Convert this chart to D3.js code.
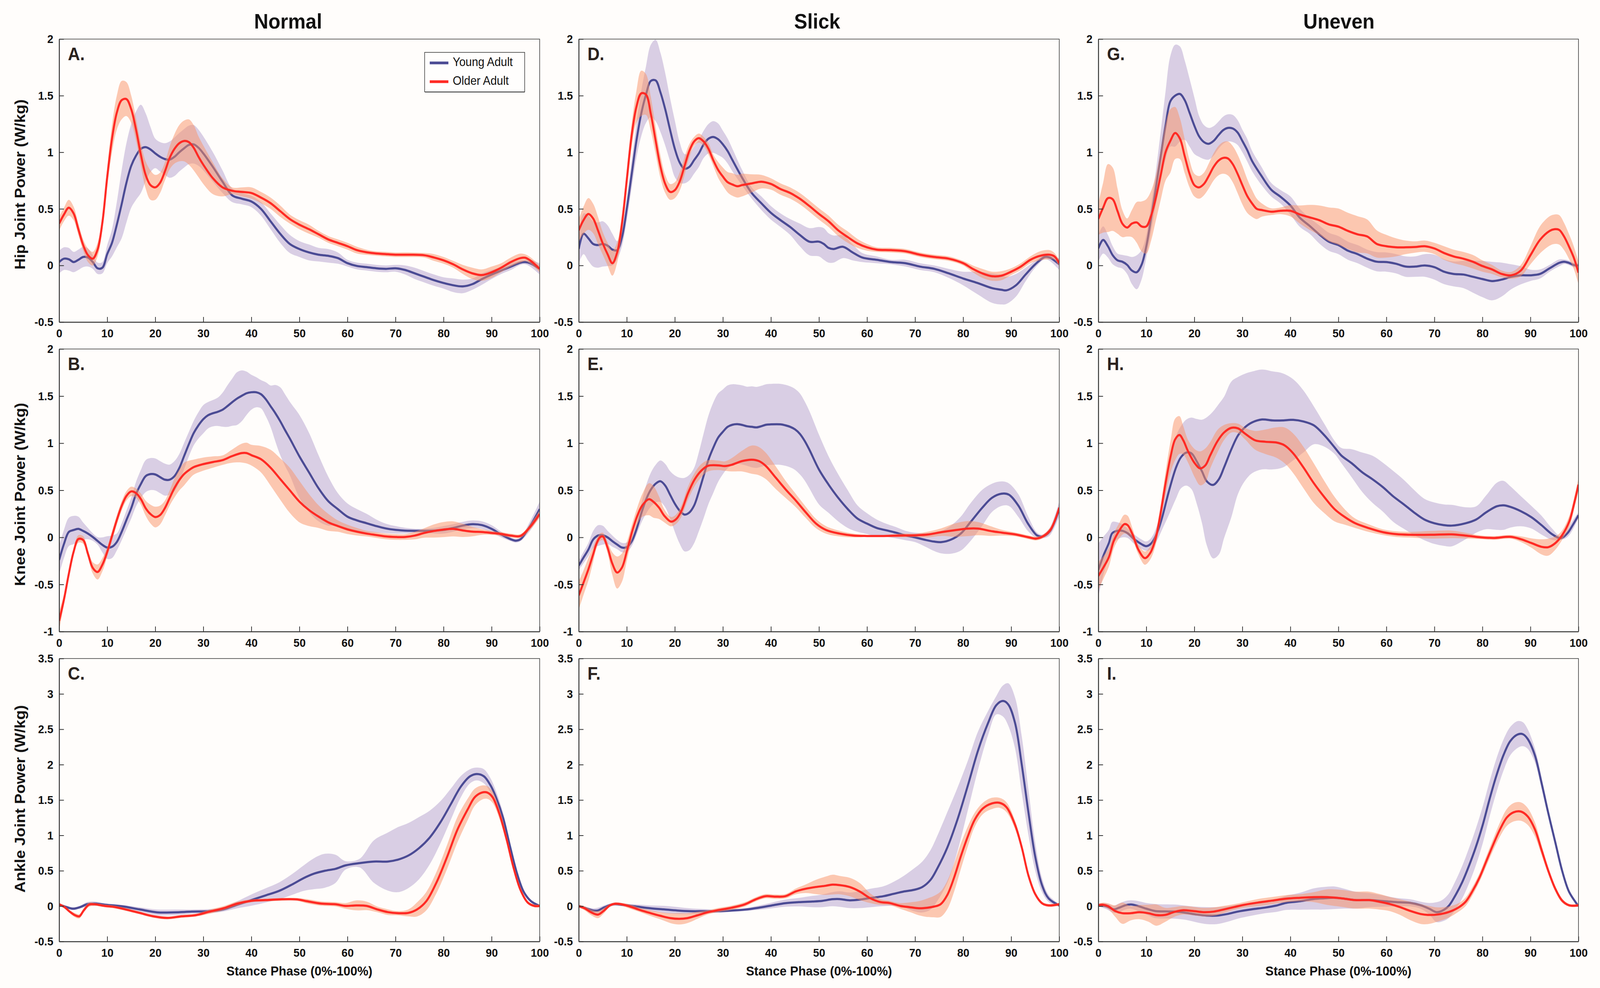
<!DOCTYPE html>
<html>
<head>
<meta charset="utf-8">
<script src="https://cdn.jsdelivr.net/npm/d3@7"></script>
<style>
  html, body { margin: 0; padding: 0; width: 100%; height: 100%; overflow: hidden; background: #fffdfb; }
  svg { display: block; width: 100vw; height: 100vh; }
</style>
</head>
<body>
<svg id="chart"></svg>
<script>
// categories and labels
const surfaces = ["Normal", "Slick", "Uneven"];
const joints = ["Hip", "Knee", "Ankle"];
const groups = ["Young Adult", "Older Adult"];
const yLabels = ["Hip Joint Power (W/kg)", "Knee Joint Power (W/kg)", "Ankle Joint Power (W/kg)"];
const xLabel = "Stance Phase (0%-100%)";
const panelLetters = [["A.", "D.", "G."], ["B.", "E.", "H."], ["C.", "F.", "I."]];
const xTicks = [0, 10, 20, 30, 40, 50, 60, 70, 80, 90, 100];
const yDomains = [[-0.5, 2], [-1, 2], [-0.5, 3.5]];
const yTicks = [
  [-0.5, 0, 0.5, 1, 1.5, 2],
  [-1, -0.5, 0, 0.5, 1, 1.5, 2],
  [-0.5, 0, 0.5, 1, 1.5, 2, 2.5, 3, 3.5]
];

// series: [stance %, mean W/kg, sd W/kg]
const hipNormalYoung = [[0,0.03,0.1],[1,0.06,0.1],[2,0.055,0.1],[3,0.03,0.09],[4,0.05,0.09],[5,0.075,0.09],[6,0.07,0.08],[7,0.03,0.06],[8,-0.025,0.05],[9,-0.02,0.05],[10,0.1,0.08],[11,0.2,0.12],[12,0.36,0.2],[13,0.54,0.3],[14,0.73,0.35],[15,0.88,0.37],[16,0.97,0.39],[17,1.03,0.39],[18,1.045,0.3],[19,1.025,0.2],[20,0.99,0.13],[21,0.96,0.13],[22,0.94,0.14],[23,0.935,0.16],[24,0.96,0.17],[25,1.0,0.17],[26,1.035,0.17],[27,1.065,0.17],[28,1.07,0.17],[29,1.04,0.16],[30,0.99,0.15],[32,0.87,0.13],[34,0.74,0.1],[36,0.62,0.06],[38,0.59,0.05],[40,0.565,0.05],[42,0.5,0.06],[44,0.39,0.07],[46,0.28,0.08],[48,0.19,0.08],[50,0.145,0.07],[52,0.115,0.07],[54,0.095,0.06],[56,0.085,0.06],[58,0.065,0.05],[60,0.02,0.03],[62,-0.005,0.03],[64,-0.015,0.03],[66,-0.025,0.03],[68,-0.03,0.03],[70,-0.025,0.03],[72,-0.04,0.04],[74,-0.07,0.05],[76,-0.1,0.05],[78,-0.13,0.05],[80,-0.155,0.05],[82,-0.175,0.06],[84,-0.185,0.06],[86,-0.165,0.05],[88,-0.12,0.05],[90,-0.08,0.04],[92,-0.045,0.03],[94,-0.01,0.03],[96,0.025,0.02],[97,0.03,0.02],[98,0.02,0.03],[100,-0.03,0.05]];
const hipNormalOld = [[0,0.37,0.06],[1,0.45,0.06],[2,0.51,0.07],[3,0.46,0.06],[4,0.32,0.05],[5,0.18,0.05],[6,0.09,0.06],[7,0.06,0.06],[8,0.14,0.06],[9,0.38,0.06],[10,0.78,0.08],[11,1.12,0.12],[12,1.35,0.15],[13,1.46,0.17],[14,1.47,0.15],[15,1.38,0.12],[16,1.2,0.1],[17,0.98,0.1],[18,0.8,0.12],[19,0.71,0.13],[20,0.69,0.11],[21,0.73,0.09],[22,0.83,0.08],[23,0.95,0.1],[24,1.03,0.13],[25,1.08,0.16],[26,1.1,0.18],[27,1.09,0.2],[28,1.04,0.2],[29,0.96,0.18],[30,0.89,0.17],[32,0.77,0.14],[34,0.69,0.08],[36,0.66,0.03],[38,0.65,0.04],[40,0.64,0.05],[42,0.6,0.05],[44,0.55,0.05],[46,0.48,0.05],[48,0.41,0.04],[50,0.36,0.04],[52,0.32,0.04],[54,0.275,0.03],[56,0.23,0.03],[58,0.2,0.03],[60,0.17,0.03],[62,0.135,0.03],[65,0.11,0.02],[68,0.1,0.02],[70,0.095,0.02],[73,0.095,0.02],[76,0.09,0.02],[78,0.07,0.03],[80,0.045,0.03],[82,0.01,0.03],[84,-0.035,0.04],[86,-0.07,0.05],[88,-0.085,0.05],[90,-0.06,0.05],[92,-0.02,0.04],[94,0.03,0.04],[96,0.065,0.04],[97,0.068,0.03],[98,0.045,0.03],[100,-0.03,0.03]];
const hipSlickYoung = [[0,0.145,0.13],[1,0.28,0.18],[2,0.24,0.2],[3,0.19,0.2],[4,0.18,0.2],[5,0.19,0.2],[6,0.175,0.18],[7,0.14,0.14],[8,0.135,0.08],[9,0.25,0.08],[10,0.5,0.1],[11,0.8,0.12],[12,1.1,0.15],[13,1.34,0.2],[14,1.51,0.25],[15,1.63,0.32],[16,1.635,0.36],[17,1.53,0.35],[18,1.38,0.32],[19,1.2,0.28],[20,1.03,0.25],[21,0.91,0.18],[22,0.855,0.13],[23,0.87,0.12],[24,0.93,0.12],[25,0.99,0.12],[26,1.07,0.12],[27,1.12,0.13],[28,1.135,0.14],[29,1.115,0.14],[30,1.07,0.12],[31,1.01,0.11],[32,0.93,0.1],[34,0.775,0.07],[36,0.64,0.05],[38,0.55,0.06],[40,0.465,0.06],[42,0.4,0.06],[44,0.34,0.07],[46,0.27,0.1],[48,0.21,0.12],[50,0.21,0.13],[51,0.19,0.14],[52,0.155,0.13],[53,0.145,0.12],[55,0.165,0.1],[57,0.115,0.07],[59,0.07,0.04],[62,0.05,0.03],[65,0.03,0.02],[68,0.02,0.03],[71,-0.01,0.03],[74,-0.03,0.03],[77,-0.07,0.04],[80,-0.115,0.06],[83,-0.155,0.1],[86,-0.2,0.13],[88,-0.215,0.13],[89,-0.22,0.12],[91,-0.175,0.1],[93,-0.08,0.06],[95,0.01,0.03],[97,0.075,0.02],[98,0.07,0.03],[100,0.01,0.05]];
const hipSlickOld = [[0,0.31,0.1],[1,0.4,0.12],[2,0.455,0.14],[3,0.415,0.13],[4,0.31,0.12],[5,0.195,0.1],[6,0.1,0.1],[7,0.02,0.11],[8,0.115,0.09],[9,0.37,0.08],[10,0.755,0.09],[11,1.145,0.1],[12,1.4,0.14],[13,1.52,0.2],[14,1.51,0.18],[15,1.34,0.15],[16,1.105,0.12],[17,0.875,0.1],[18,0.72,0.08],[19,0.65,0.07],[20,0.665,0.07],[21,0.74,0.08],[22,0.875,0.08],[23,1.01,0.06],[24,1.095,0.04],[25,1.125,0.04],[26,1.095,0.04],[27,1.03,0.05],[28,0.93,0.05],[29,0.845,0.07],[30,0.785,0.08],[31,0.735,0.09],[32,0.715,0.1],[33,0.7,0.1],[34,0.71,0.1],[36,0.725,0.08],[38,0.74,0.06],[40,0.72,0.05],[42,0.675,0.05],[44,0.64,0.05],[46,0.59,0.05],[48,0.525,0.05],[50,0.455,0.05],[52,0.39,0.05],[54,0.31,0.05],[56,0.25,0.05],[58,0.195,0.04],[60,0.16,0.03],[62,0.14,0.02],[65,0.135,0.02],[68,0.125,0.02],[71,0.095,0.02],[74,0.075,0.02],[77,0.06,0.02],[80,0.02,0.02],[82,-0.03,0.03],[84,-0.07,0.04],[86,-0.095,0.04],[88,-0.09,0.04],[90,-0.055,0.03],[92,-0.01,0.03],[94,0.05,0.03],[96,0.085,0.04],[98,0.095,0.04],[99,0.08,0.03],[100,0.02,0.03]];
const hipUnevenYoung = [[0,0.15,0.12],[1,0.225,0.12],[2,0.17,0.1],[3,0.09,0.08],[4,0.045,0.06],[5,0.033,0.06],[6,0.005,0.08],[7,-0.045,0.12],[8,-0.06,0.15],[9,0.005,0.13],[10,0.17,0.1],[11,0.42,0.12],[12,0.69,0.15],[13,0.965,0.22],[14,1.235,0.3],[15,1.45,0.4],[16,1.5,0.45],[17,1.515,0.42],[18,1.46,0.35],[19,1.35,0.3],[20,1.235,0.25],[21,1.14,0.18],[22,1.09,0.15],[23,1.075,0.14],[24,1.1,0.13],[25,1.15,0.12],[26,1.195,0.12],[27,1.215,0.12],[28,1.21,0.12],[29,1.175,0.11],[30,1.1,0.1],[31,1.02,0.1],[32,0.925,0.09],[34,0.79,0.08],[36,0.67,0.06],[38,0.605,0.06],[40,0.53,0.08],[42,0.42,0.08],[44,0.35,0.07],[46,0.275,0.08],[48,0.21,0.08],[50,0.18,0.08],[52,0.13,0.08],[54,0.1,0.08],[56,0.06,0.08],[58,0.033,0.085],[60,0.03,0.085],[62,0.015,0.085],[64,-0.01,0.09],[66,-0.01,0.09],[68,0.0,0.1],[70,-0.015,0.11],[72,-0.055,0.11],[74,-0.075,0.11],[76,-0.08,0.12],[78,-0.1,0.14],[80,-0.12,0.16],[82,-0.138,0.17],[84,-0.125,0.15],[86,-0.1,0.11],[88,-0.087,0.08],[90,-0.087,0.05],[92,-0.075,0.04],[94,-0.025,0.03],[96,0.023,0.03],[97,0.033,0.02],[98,0.023,0.02],[99,0.004,0.02],[100,0.0,0.02]];
const hipUnevenOld = [[0,0.41,0.14],[1,0.51,0.22],[2,0.595,0.3],[3,0.585,0.28],[4,0.48,0.2],[5,0.37,0.12],[6,0.335,0.08],[7,0.37,0.12],[8,0.38,0.18],[9,0.345,0.22],[10,0.345,0.24],[11,0.44,0.22],[12,0.6,0.2],[13,0.8,0.22],[14,1.0,0.25],[15,1.1,0.28],[16,1.17,0.23],[17,1.12,0.18],[18,0.965,0.15],[19,0.81,0.12],[20,0.71,0.1],[21,0.69,0.1],[22,0.72,0.1],[23,0.79,0.11],[24,0.87,0.12],[25,0.925,0.13],[26,0.95,0.14],[27,0.945,0.15],[28,0.895,0.16],[29,0.81,0.17],[30,0.71,0.17],[31,0.615,0.15],[32,0.55,0.12],[33,0.5,0.09],[34,0.49,0.06],[36,0.475,0.03],[38,0.483,0.03],[40,0.483,0.05],[42,0.45,0.08],[44,0.425,0.11],[46,0.4,0.13],[48,0.363,0.15],[50,0.343,0.16],[52,0.305,0.16],[54,0.275,0.16],[56,0.256,0.15],[58,0.19,0.12],[60,0.17,0.1],[62,0.16,0.08],[64,0.16,0.06],[66,0.163,0.05],[68,0.17,0.05],[70,0.15,0.05],[72,0.11,0.06],[74,0.08,0.06],[76,0.06,0.06],[78,0.033,0.06],[80,-0.005,0.05],[82,-0.035,0.04],[84,-0.075,0.03],[86,-0.087,0.03],[88,-0.045,0.05],[90,0.09,0.08],[92,0.227,0.12],[94,0.305,0.13],[95,0.32,0.13],[96,0.314,0.13],[97,0.256,0.12],[98,0.17,0.11],[99,0.072,0.1],[100,-0.064,0.1]];

const kneeNormalYoung = [[0,-0.24,0.15],[1,-0.07,0.15],[2,0.057,0.15],[3,0.078,0.15],[4,0.09,0.13],[5,0.068,0.09],[6,0.04,0.06],[7,0.004,0.04],[8,-0.038,0.04],[9,-0.08,0.08],[10,-0.108,0.12],[11,-0.1,0.12],[12,-0.049,0.09],[13,0.057,0.09],[14,0.184,0.1],[15,0.31,0.11],[16,0.46,0.13],[17,0.566,0.15],[18,0.65,0.17],[19,0.672,0.17],[20,0.668,0.17],[21,0.64,0.17],[22,0.613,0.17],[23,0.613,0.16],[24,0.65,0.16],[25,0.735,0.15],[26,0.863,0.14],[27,0.99,0.13],[28,1.107,0.13],[29,1.19,0.14],[30,1.255,0.15],[31,1.297,0.14],[32,1.318,0.14],[33,1.333,0.15],[34,1.355,0.18],[35,1.393,0.22],[36,1.435,0.25],[37,1.473,0.28],[38,1.503,0.27],[39,1.53,0.23],[40,1.541,0.185],[41,1.541,0.16],[42,1.52,0.15],[43,1.467,0.18],[44,1.393,0.22],[45,1.318,0.3],[46,1.234,0.36],[47,1.14,0.38],[48,1.05,0.39],[50,0.86,0.44],[52,0.69,0.42],[54,0.52,0.35],[56,0.385,0.26],[58,0.3,0.17],[60,0.22,0.14],[62,0.18,0.12],[64,0.15,0.1],[66,0.12,0.07],[68,0.095,0.05],[70,0.08,0.04],[72,0.072,0.03],[75,0.07,0.02],[78,0.072,0.03],[80,0.08,0.04],[82,0.1,0.04],[84,0.125,0.04],[86,0.14,0.04],[88,0.13,0.04],[90,0.09,0.04],[92,0.03,0.03],[94,-0.02,0.02],[95,-0.035,0.02],[96,-0.02,0.02],[98,0.12,0.05],[100,0.3,0.08]];
const kneeNormalOld = [[0,-0.886,0.1],[1,-0.66,0.05],[2,-0.39,0.03],[3,-0.155,0.03],[4,-0.017,0.04],[5,-0.028,0.04],[6,-0.176,0.04],[7,-0.324,0.06],[8,-0.367,0.08],[9,-0.29,0.07],[10,-0.155,0.05],[11,0.015,0.05],[12,0.184,0.05],[13,0.333,0.05],[14,0.44,0.05],[15,0.488,0.05],[16,0.47,0.05],[17,0.407,0.06],[18,0.31,0.08],[19,0.248,0.1],[20,0.216,0.11],[21,0.237,0.1],[22,0.31,0.08],[23,0.418,0.08],[24,0.524,0.1],[25,0.608,0.11],[26,0.672,0.12],[27,0.714,0.1],[28,0.746,0.08],[30,0.778,0.07],[32,0.8,0.06],[34,0.82,0.05],[36,0.863,0.07],[38,0.895,0.1],[39,0.895,0.11],[40,0.873,0.11],[42,0.83,0.14],[44,0.74,0.19],[46,0.62,0.22],[48,0.5,0.24],[50,0.38,0.22],[52,0.29,0.17],[54,0.22,0.12],[56,0.16,0.09],[58,0.12,0.06],[60,0.085,0.05],[62,0.06,0.04],[64,0.04,0.03],[66,0.025,0.03],[68,0.01,0.03],[70,0.004,0.03],[72,0.004,0.03],[74,0.019,0.04],[76,0.047,0.05],[78,0.068,0.07],[80,0.083,0.08],[82,0.09,0.08],[84,0.074,0.07],[86,0.061,0.05],[88,0.057,0.03],[90,0.047,0.02],[92,0.036,0.02],[94,0.019,0.02],[96,0.015,0.02],[98,0.11,0.03],[100,0.248,0.04]];
const kneeSlickYoung = [[0,-0.3,0.05],[1,-0.214,0.06],[2,-0.13,0.07],[3,-0.023,0.09],[4,0.019,0.11],[5,0.023,0.1],[6,0.0,0.07],[7,-0.04,0.06],[8,-0.076,0.05],[9,-0.108,0.05],[10,-0.104,0.05],[11,-0.045,0.05],[12,0.083,0.06],[13,0.252,0.1],[14,0.4,0.15],[15,0.506,0.18],[16,0.57,0.2],[17,0.596,0.22],[18,0.55,0.23],[19,0.454,0.25],[20,0.358,0.3],[21,0.284,0.35],[22,0.242,0.39],[23,0.263,0.4],[24,0.337,0.4],[25,0.485,0.42],[26,0.655,0.45],[27,0.825,0.47],[28,0.952,0.48],[29,1.058,0.47],[30,1.121,0.45],[31,1.174,0.44],[32,1.196,0.43],[33,1.202,0.42],[34,1.194,0.42],[35,1.18,0.42],[36,1.174,0.43],[37,1.168,0.43],[38,1.18,0.43],[39,1.196,0.43],[40,1.2,0.43],[42,1.2,0.43],[43,1.19,0.43],[44,1.174,0.43],[45,1.147,0.43],[46,1.1,0.43],[47,1.026,0.42],[48,0.931,0.41],[50,0.72,0.37],[52,0.56,0.3],[54,0.42,0.25],[56,0.3,0.2],[58,0.2,0.14],[60,0.146,0.11],[62,0.1,0.09],[64,0.075,0.07],[66,0.05,0.06],[68,0.02,0.05],[70,0.0,0.05],[72,-0.025,0.07],[74,-0.045,0.1],[75.5,-0.05,0.12],[77.5,-0.023,0.15],[79.5,0.04,0.18],[81.5,0.16,0.2],[84,0.316,0.19],[86,0.42,0.15],[88,0.464,0.13],[89.5,0.454,0.12],[91.5,0.337,0.12],[93.5,0.146,0.08],[95.4,0.02,0.03],[96.5,0.01,0.02],[98,0.06,0.04],[100,0.3,0.08]];
const kneeSlickOld = [[0,-0.617,0.15],[1,-0.48,0.13],[2,-0.34,0.12],[3,-0.18,0.08],[3.7,-0.066,0.05],[4.4,0.0,0.04],[5,0.01,0.04],[6,-0.108,0.06],[7,-0.28,0.12],[8,-0.373,0.17],[9,-0.32,0.15],[10,-0.15,0.1],[11.1,0.06,0.08],[12.2,0.23,0.09],[13.2,0.337,0.12],[14.6,0.405,0.17],[15.5,0.38,0.17],[16.7,0.316,0.12],[17.8,0.23,0.07],[19.2,0.167,0.05],[20.2,0.19,0.05],[21.3,0.273,0.06],[22.7,0.464,0.07],[24.1,0.613,0.07],[25.5,0.708,0.07],[26.9,0.76,0.06],[29,0.765,0.05],[30.4,0.757,0.05],[31.8,0.77,0.07],[34,0.81,0.11],[36,0.825,0.15],[37.5,0.81,0.15],[38.9,0.76,0.14],[41,0.634,0.12],[43.1,0.507,0.09],[45.2,0.39,0.07],[47.3,0.263,0.06],[49.4,0.146,0.05],[51.5,0.078,0.04],[54.3,0.04,0.03],[57.1,0.02,0.02],[60,0.015,0.01],[63.5,0.015,0.01],[67,0.02,0.02],[70.5,0.023,0.02],[72.6,0.03,0.03],[75.4,0.055,0.04],[78.2,0.076,0.07],[81,0.093,0.08],[83.1,0.093,0.07],[85.9,0.066,0.05],[88.1,0.05,0.03],[91,0.03,0.02],[93.7,0.0,0.02],[95.1,-0.013,0.02],[96.5,0.008,0.02],[98.2,0.083,0.03],[100,0.316,0.03]];
const kneeUnevenYoung = [[0,-0.347,0.28],[1.1,-0.19,0.2],[2.2,-0.06,0.14],[2.9,0.044,0.12],[4,0.07,0.09],[5,0.07,0.07],[6.1,0.044,0.05],[7.5,-0.02,0.05],[9,-0.072,0.05],[10,-0.093,0.05],[11.1,-0.06,0.06],[12.2,0.044,0.08],[13.3,0.214,0.13],[14.7,0.49,0.25],[16.2,0.744,0.33],[17.2,0.85,0.33],[18.3,0.9,0.35],[19.4,0.892,0.38],[20.5,0.807,0.45],[21.6,0.7,0.55],[22.6,0.595,0.68],[23.9,0.557,0.78],[25.1,0.617,0.8],[26.2,0.744,0.75],[27.7,0.934,0.72],[29.1,1.083,0.62],[30.5,1.167,0.57],[32,1.22,0.54],[34.1,1.252,0.53],[36.3,1.242,0.52],[38.4,1.242,0.5],[40.6,1.248,0.43],[42.7,1.231,0.33],[44.9,1.189,0.2],[47.1,1.083,0.12],[49.2,0.956,0.07],[50.6,0.87,0.08],[52.8,0.786,0.15],[55,0.69,0.21],[57.1,0.617,0.25],[59.3,0.532,0.26],[61.4,0.436,0.27],[63.6,0.352,0.26],[65.7,0.267,0.24],[67.9,0.19,0.22],[70,0.15,0.22],[72,0.13,0.22],[73.6,0.125,0.22],[76.5,0.15,0.17],[78.7,0.19,0.14],[80.8,0.267,0.18],[83,0.33,0.25],[84.4,0.34,0.26],[85.8,0.324,0.22],[88,0.278,0.16],[90.2,0.214,0.12],[92.3,0.13,0.1],[94.5,0.034,0.06],[96.3,-0.008,0.02],[97.7,0.044,0.04],[98.8,0.13,0.05],[100,0.235,0.03]];
const kneeUnevenOld = [[0,-0.41,0.15],[1.1,-0.316,0.12],[2.2,-0.21,0.1],[3.2,-0.04,0.08],[4.3,0.066,0.08],[5.4,0.14,0.1],[6.1,0.13,0.1],[7.2,0.023,0.06],[8.3,-0.125,0.05],[9.7,-0.22,0.07],[10.8,-0.167,0.07],[11.9,-0.02,0.07],[12.9,0.235,0.08],[14,0.574,0.12],[15.1,0.87,0.17],[16,1.04,0.22],[16.9,1.087,0.2],[17.7,1.03,0.15],[18.7,0.913,0.12],[20.1,0.786,0.15],[21.2,0.733,0.18],[22.3,0.765,0.18],[23.3,0.87,0.14],[24.8,1.02,0.12],[26.2,1.114,0.08],[27.7,1.163,0.05],[29.1,1.157,0.05],[30.5,1.104,0.06],[32.7,1.03,0.1],[34.8,1.015,0.13],[37,1.008,0.16],[38.8,0.977,0.19],[40.6,0.892,0.21],[42.7,0.744,0.22],[44.9,0.574,0.21],[47.1,0.426,0.17],[49.2,0.3,0.13],[51.4,0.214,0.08],[53.5,0.15,0.05],[56.4,0.097,0.04],[59.3,0.055,0.03],[62.1,0.034,0.03],[65,0.028,0.03],[69.3,0.028,0.04],[73.6,0.032,0.04],[76.5,0.019,0.03],[79.4,0.002,0.02],[82.3,-0.006,0.02],[85.8,0.006,0.02],[88,-0.019,0.03],[90.2,-0.06,0.05],[92.3,-0.1,0.08],[93.7,-0.104,0.09],[95.2,-0.06,0.07],[96.6,0.023,0.05],[98.1,0.17,0.06],[99.1,0.36,0.06],[100,0.56,0.07]];

const ankleNormalYoung = [[0,0.02,0.02],[1.5,-0.013,0.02],[2.9,-0.036,0.02],[4.4,-0.013,0.02],[5.8,0.026,0.03],[7.3,0.036,0.03],[9.5,0.02,0.02],[13.1,-0.003,0.02],[16.7,-0.046,0.03],[20.4,-0.088,0.04],[24,-0.088,0.04],[27.6,-0.078,0.03],[31.3,-0.072,0.03],[34.2,-0.046,0.03],[37.1,0.02,0.05],[40,0.085,0.08],[42.9,0.15,0.1],[45.8,0.216,0.12],[48.7,0.314,0.15],[50.9,0.396,0.18],[53.1,0.46,0.22],[55.3,0.5,0.24],[57.5,0.527,0.2],[59.6,0.576,0.06],[62.5,0.608,0.06],[65.5,0.63,0.3],[68.4,0.63,0.41],[70.5,0.657,0.46],[72.7,0.716,0.46],[74.9,0.82,0.44],[77.1,0.968,0.38],[79.3,1.18,0.3],[81.5,1.44,0.22],[83.6,1.69,0.15],[85.5,1.835,0.1],[86.9,1.868,0.09],[88.4,1.835,0.1],[89.8,1.704,0.1],[90.9,1.54,0.09],[92.4,1.246,0.07],[93.8,0.854,0.05],[95.3,0.46,0.04],[96.7,0.2,0.03],[98.2,0.07,0.02],[100,0.003,0.02]];
const ankleNormalOld = [[0,0.026,0.02],[1.1,-0.013,0.02],[2.2,-0.078,0.02],[3.3,-0.128,0.03],[4.2,-0.144,0.03],[5.1,-0.062,0.03],[6.2,0.02,0.03],[7.3,0.026,0.02],[9.5,0.003,0.02],[11.6,-0.013,0.02],[13.8,-0.046,0.02],[16.7,-0.095,0.02],[19.6,-0.144,0.02],[22.5,-0.167,0.02],[25.5,-0.144,0.02],[28.4,-0.128,0.02],[31.3,-0.078,0.03],[34.2,-0.03,0.03],[37.1,0.036,0.03],[40,0.075,0.02],[42.9,0.085,0.02],[45.8,0.095,0.02],[49.5,0.095,0.02],[51.6,0.069,0.03],[54.5,0.036,0.03],[57.5,0.026,0.03],[59.6,0.003,0.04],[61.8,0.01,0.07],[64,0.003,0.06],[66.2,-0.046,0.04],[68.4,-0.085,0.04],[70.5,-0.1,0.03],[72.7,-0.095,0.05],[74.5,-0.046,0.1],[76.4,0.069,0.13],[78.5,0.33,0.15],[80.7,0.69,0.17],[82.9,1.083,0.18],[85.1,1.377,0.15],[86.5,1.54,0.12],[88,1.606,0.1],[89.1,1.606,0.09],[90.2,1.54,0.08],[91.6,1.31,0.07],[93.1,0.95,0.06],[94.5,0.56,0.05],[96,0.23,0.03],[97.5,0.052,0.02],[98.9,0.003,0.02],[100,0.003,0.02]];
const ankleSlickYoung = [[0,0,0.01],[1.5,-0.03,0.02],[3,-0.062,0.03],[4,-0.062,0.04],[5.4,-0.016,0.03],[7.2,0.026,0.02],[9.3,0.016,0.02],[12.1,-0.007,0.03],[14.9,-0.03,0.04],[17.7,-0.046,0.05],[20.5,-0.062,0.05],[23.3,-0.072,0.04],[26.1,-0.072,0.03],[29,-0.072,0.02],[31.8,-0.062,0.02],[34.6,-0.049,0.02],[37.4,-0.023,0.03],[40.2,0.01,0.04],[43,0.042,0.05],[45.8,0.056,0.06],[48.6,0.065,0.08],[50.7,0.075,0.09],[52.8,0.098,0.1],[54.3,0.1,0.11],[56.4,0.082,0.11],[58.5,0.092,0.12],[60.6,0.114,0.13],[63.4,0.14,0.14],[65.5,0.173,0.17],[67.6,0.206,0.22],[69.7,0.229,0.3],[71.5,0.27,0.36],[73.2,0.37,0.42],[74.6,0.53,0.46],[76.7,0.827,0.5],[78.8,1.22,0.45],[81,1.71,0.35],[83.1,2.2,0.27],[85.2,2.59,0.17],[86.9,2.84,0.13],[88.3,2.9,0.22],[89.4,2.85,0.3],[90.8,2.59,0.36],[92.2,2.0,0.4],[93.6,1.32,0.32],[95,0.7,0.2],[96.4,0.3,0.1],[97.8,0.108,0.05],[100,0.01,0.02]];
const ankleSlickOld = [[0,0,0.02],[1.2,-0.03,0.03],[2.6,-0.088,0.04],[4,-0.12,0.05],[5.1,-0.072,0.04],[6.5,0.01,0.02],[7.5,0.033,0.02],[8.9,0.026,0.02],[10.7,-0.007,0.03],[12.8,-0.056,0.03],[14.9,-0.098,0.04],[17,-0.137,0.05],[19.1,-0.17,0.07],[20.9,-0.18,0.08],[22.6,-0.17,0.07],[24.7,-0.13,0.05],[26.8,-0.088,0.03],[29,-0.056,0.03],[31.8,-0.023,0.03],[34.6,0.026,0.03],[36.7,0.092,0.03],[38.8,0.14,0.03],[40.9,0.134,0.03],[43,0.14,0.03],[45.1,0.206,0.04],[47.2,0.245,0.06],[49.3,0.27,0.1],[51.4,0.288,0.13],[52.8,0.304,0.14],[54.3,0.297,0.13],[56.4,0.27,0.13],[58.5,0.206,0.12],[60.6,0.114,0.07],[62.7,0.059,0.04],[64.8,0.042,0.03],[66.9,0.003,0.04],[69,-0.016,0.07],[70.8,-0.03,0.1],[72.5,-0.023,0.13],[73.9,-0.007,0.15],[75.3,0.026,0.18],[76.7,0.157,0.2],[78.1,0.4,0.2],[79.5,0.7,0.18],[81,0.99,0.14],[82.4,1.22,0.1],[84.1,1.38,0.08],[85.9,1.45,0.08],[87.6,1.46,0.07],[89,1.4,0.07],[90.8,1.15,0.06],[92.2,0.83,0.05],[93.6,0.43,0.04],[95,0.17,0.03],[96.4,0.042,0.02],[97.8,0.01,0.02],[100,0.026,0.02]];
const ankleUnevenYoung = [[0,0.013,0.02],[1.7,-0.003,0.04],[3.2,-0.046,0.05],[4.2,-0.026,0.06],[5.7,0.013,0.06],[6.8,0.023,0.06],[8.2,0.003,0.07],[10,-0.036,0.08],[11.8,-0.069,0.1],[13.9,-0.075,0.1],[16.1,-0.078,0.1],[18.3,-0.095,0.1],[20.4,-0.118,0.11],[22.6,-0.134,0.12],[24.7,-0.134,0.12],[26.9,-0.111,0.11],[29,-0.078,0.1],[31.9,-0.046,0.09],[34.8,-0.02,0.08],[37,0.007,0.09],[39.1,0.046,0.1],[42,0.069,0.12],[44.9,0.101,0.15],[47,0.111,0.16],[49.2,0.118,0.16],[51.3,0.105,0.14],[53.5,0.085,0.12],[56.4,0.085,0.1],[59.2,0.072,0.08],[62.1,0.056,0.06],[65,0.046,0.05],[67.1,0.013,0.05],[68.9,-0.036,0.08],[70.4,-0.085,0.14],[71.5,-0.069,0.15],[72.9,-0.003,0.17],[74.3,0.144,0.2],[75.8,0.34,0.23],[77.2,0.57,0.25],[78.6,0.83,0.26],[80.1,1.157,0.26],[81.5,1.516,0.25],[82.9,1.843,0.24],[84.4,2.137,0.22],[85.8,2.333,0.2],[87.3,2.425,0.19],[88.4,2.431,0.17],[89.4,2.366,0.14],[90.9,2.137,0.1],[92.3,1.745,0.08],[93.7,1.32,0.06],[95.2,0.895,0.05],[96.6,0.5,0.04],[98,0.209,0.03],[99.5,0.046,0.02],[100,0,0.02]];
const ankleUnevenOld = [[0,0.013,0.02],[1,0.02,0.03],[2.1,-0.003,0.04],[3.5,-0.069,0.08],[5,-0.1,0.15],[6.8,-0.1,0.1],[8.6,-0.085,0.1],[10.4,-0.1,0.12],[12.1,-0.127,0.15],[13.9,-0.124,0.1],[15.7,-0.085,0.07],[17.5,-0.059,0.06],[19.7,-0.069,0.06],[21.9,-0.085,0.06],[24,-0.078,0.06],[26.2,-0.046,0.05],[28.3,-0.013,0.04],[30.5,0.02,0.04],[33.4,0.052,0.05],[36.2,0.078,0.05],[39.1,0.105,0.05],[42,0.118,0.05],[44.9,0.127,0.07],[47.7,0.127,0.11],[50.6,0.111,0.12],[53.5,0.085,0.12],[56.4,0.085,0.12],[58.5,0.062,0.11],[60.7,0.03,0.1],[62.8,-0.013,0.11],[65,-0.069,0.13],[67.1,-0.111,0.14],[68.6,-0.124,0.13],[70.7,-0.118,0.1],[72.9,-0.085,0.08],[75,-0.02,0.06],[76.5,0.062,0.06],[77.9,0.209,0.06],[79.4,0.405,0.06],[80.8,0.634,0.07],[82.2,0.863,0.08],[83.7,1.09,0.1],[85.1,1.255,0.12],[86.5,1.327,0.13],[88,1.337,0.13],[89.4,1.27,0.12],[90.9,1.09,0.1],[92.3,0.797,0.07],[93.7,0.503,0.05],[95.2,0.242,0.04],[96.6,0.078,0.03],[98,0.013,0.02],[99.5,0.007,0.02],[100,0.013,0.02]];

// rows = joints, columns = surfaces
const panelSeries = [
  [[hipNormalYoung, hipNormalOld], [hipSlickYoung, hipSlickOld], [hipUnevenYoung, hipUnevenOld]],
  [[kneeNormalYoung, kneeNormalOld], [kneeSlickYoung, kneeSlickOld], [kneeUnevenYoung, kneeUnevenOld]],
  [[ankleNormalYoung, ankleNormalOld], [ankleSlickYoung, ankleSlickOld], [ankleUnevenYoung, ankleUnevenOld]]
];

// figure is laid out in a 4382 x 2528 user space and scaled to the window
const width = 4382, height = 2528;
const colX = [[162, 1478], [1585, 2901], [3008, 4323]];
const rowY = [[100, 824], [893, 1616], [1685, 2409]];
const titleX = [789, 2238, 3667];
const yLabelY = [472, 1265, 2044];

const lineColor = ["#4b4b94", "#ff2a24"];
const bandColor = ["#b39fcd", "#f99165"];
const bandOpacity = [0.5, 0.5];
const axisColor = "#333";
const sansFont = "'Liberation Sans', Arial, Helvetica, sans-serif";
const tickFont = "'Liberation Sans Narrow', 'Liberation Sans', Arial, sans-serif";

const svg = d3.select("#chart")
    .attr("viewBox", `0 0 ${width} ${height}`)
    .attr("preserveAspectRatio", "none");

svg.append("rect").attr("width", width).attr("height", height).attr("fill", "#fffdfb");

surfaces.forEach((surface, c) => {
    svg.append("text")
        .attr("x", titleX[c])
        .attr("y", 73)
        .attr("text-anchor", "middle")
        .attr("font-family", sansFont)
        .attr("font-weight", "bold")
        .attr("font-size", 54)
        .attr("fill", "#111")
        .text(surface);

    joints.forEach((joint, r) => {
        const [x0, x1] = colX[c];
        const [y0, y1] = rowY[r];
        const w = x1 - x0, h = y1 - y0;

        const x = d3.scaleLinear().domain([0, 100]).range([0, w]);
        const y = d3.scaleLinear().domain(yDomains[r]).range([h, 0]);

        const g = svg.append("g").attr("transform", `translate(${x0},${y0})`);
        const clipId = `clip-${r}-${c}`;
        g.append("clipPath").attr("id", clipId)
            .append("rect").attr("width", w).attr("height", h);

        const band = d3.area()
            .x(d => x(d[0]))
            .y0(d => y(d[1] - d[2]))
            .y1(d => y(d[1] + d[2]))
            .curve(d3.curveCatmullRom);
        const line = d3.line()
            .x(d => x(d[0]))
            .y(d => y(d[1]))
            .curve(d3.curveCatmullRom);

        const plot = g.append("g").attr("clip-path", `url(#${clipId})`);
        panelSeries[r][c].forEach((data, i) => {
            plot.append("path")
                .attr("d", band(data))
                .attr("fill", bandColor[i])
                .attr("fill-opacity", bandOpacity[i]);
            plot.append("path")
                .attr("d", line(data))
                .attr("fill", "none")
                .attr("stroke", lineColor[i])
                .attr("stroke-width", 5.5)
                .attr("stroke-linejoin", "round");
        });

        // box: thin top and right
        g.append("path")
            .attr("d", `M0,0H${w}V${h}`)
            .attr("fill", "none")
            .attr("stroke", axisColor)
            .attr("stroke-width", 1.6);

        const xAxis = g.append("g")
            .attr("transform", `translate(0,${h})`)
            .call(d3.axisBottom(x).tickValues(xTicks).tickSizeInner(-13).tickSizeOuter(0).tickPadding(18).tickFormat(d => String(d)));
        const yAxis = g.append("g")
            .call(d3.axisLeft(y).tickValues(yTicks[r]).tickSizeInner(-13).tickSizeOuter(0).tickPadding(16).tickFormat(d => String(d)));

        [xAxis, yAxis].forEach(ax => {
            ax.select(".domain").attr("stroke", axisColor).attr("stroke-width", 2.6);
            ax.selectAll(".tick line").attr("stroke", axisColor).attr("stroke-width", 2);
            ax.selectAll(".tick text")
                .attr("font-family", tickFont)
                .attr("font-weight", "bold")
                .attr("font-size", 30)
                .attr("fill", "#111");
        });

        g.append("text")
            .attr("x", 24)
            .attr("y", 54)
            .attr("font-family", sansFont)
            .attr("font-weight", "bold")
            .attr("font-size", 46)
            .attr("fill", "#2a221e")
            .text(panelLetters[r][c]);

        if (c === 0) {
            svg.append("text")
                .attr("transform", `translate(68,${yLabelY[r]}) rotate(-90)`)
                .attr("text-anchor", "middle")
                .attr("font-family", sansFont)
                .attr("font-weight", "bold")
                .attr("font-size", 40)
                .attr("fill", "#111")
                .text(yLabels[r]);
        }
        if (r === 2) {
            svg.append("text")
                .attr("x", (x0 + x1) / 2)
                .attr("y", 2496)
                .attr("text-anchor", "middle")
                .attr("font-family", sansFont)
                .attr("font-weight", "bold")
                .attr("font-size", 33)
                .attr("textLength", 400)
                .attr("lengthAdjust", "spacingAndGlyphs")
                .attr("fill", "#111")
                .text(xLabel);
        }
    });
});

// legend (panel A)
const legend = svg.append("g").attr("transform", "translate(1163,134)");
legend.append("line")
    .attr("x1", 1).attr("x2", 274).attr("y1", 102).attr("y2", 102)
    .attr("stroke", "#999").attr("stroke-width", 2);
legend.append("rect")
    .attr("width", 274).attr("height", 101)
    .attr("fill", "#fffefd")
    .attr("stroke", "#222").attr("stroke-width", 1.4);
groups.forEach((name, i) => {
    const ly = 27 + i * 48;
    legend.append("line")
        .attr("x1", 14).attr("x2", 65).attr("y1", ly).attr("y2", ly)
        .attr("stroke", lineColor[i]).attr("stroke-width", 7);
    legend.append("text")
        .attr("x", 77).attr("y", ly + 8.5)
        .attr("font-family", sansFont)
        .attr("font-size", 31)
        .attr("fill", "#111")
        .text(name);
});
</script>
</body>
</html>
